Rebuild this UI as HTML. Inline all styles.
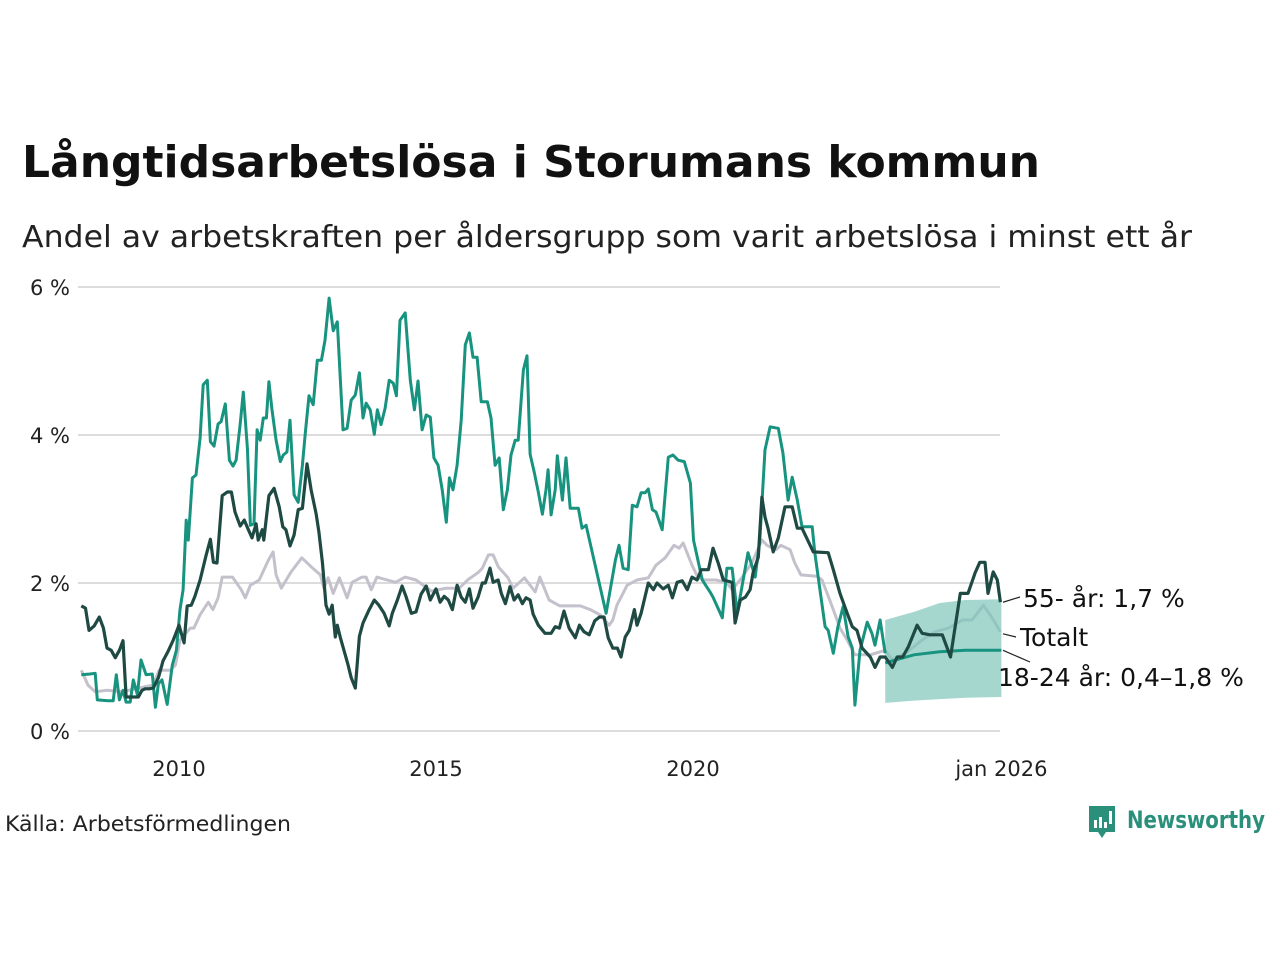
<!DOCTYPE html>
<html><head><meta charset="utf-8"><style>
html,body{margin:0;padding:0;background:#fff;}
body{width:1280px;height:960px;overflow:hidden;font-family:"Liberation Sans","DejaVu Sans",sans-serif;}
svg text{font-family:"DejaVu Sans","Liberation Sans",sans-serif;}
</style></head><body>
<svg id="chart" width="1280" height="960" xmlns="http://www.w3.org/2000/svg">
<text x="22" y="177" font-size="44" font-weight="bold" fill="#111" textLength="1018" lengthAdjust="spacingAndGlyphs">Långtidsarbetslösa i Storumans kommun</text>
<text x="22" y="247" font-size="30" fill="#222" textLength="1170" lengthAdjust="spacingAndGlyphs">Andel av arbetskraften per åldersgrupp som varit arbetslösa i minst ett år</text>
<g id="grid"></g>
<g id="plot"></g>
<g id="labels"></g>
<text x="5" y="831" font-size="21" fill="#222" textLength="286" lengthAdjust="spacingAndGlyphs">Källa: Arbetsförmedlingen</text>
<g>
<path d="M1089,806 h26 v26 h-9 l-4,6 l-4,-6 h-9 z" fill="#2a8f7b"/>
<rect x="1094" y="820" width="3" height="8" fill="#fff"/><rect x="1099" y="817" width="3" height="11" fill="#fff"/><rect x="1104" y="822" width="3" height="6" fill="#fff"/><rect x="1109" y="811" width="3" height="13" fill="#fff"/>
<text x="1127" y="828" font-size="24" font-weight="bold" fill="#2a8f7b" textLength="138" lengthAdjust="spacingAndGlyphs">Newsworthy</text>
</g>
</svg>
<script>
// 18-24 år (teal)
const youngDates=[2008.10,2008.27,2008.37,2008.41,2008.62,2008.72,2008.78,2008.84,2008.91,2008.97,2009.05,2009.11,2009.19,2009.26,2009.36,2009.48,2009.54,2009.60,2009.67,2009.77,2009.87,2009.95,2010.02,2010.08,2010.14,2010.18,2010.26,2010.33,2010.41,2010.47,2010.55,2010.61,2010.68,2010.76,2010.82,2010.90,2010.98,2011.05,2011.11,2011.19,2011.25,2011.33,2011.39,2011.46,2011.52,2011.58,2011.64,2011.70,2011.75,2011.81,2011.89,2011.97,2012.03,2012.10,2012.16,2012.24,2012.32,2012.40,2012.46,2012.53,2012.61,2012.69,2012.77,2012.84,2012.92,2013.00,2013.08,2013.19,2013.27,2013.35,2013.43,2013.51,2013.58,2013.64,2013.72,2013.80,2013.86,2013.93,2014.01,2014.09,2014.17,2014.23,2014.30,2014.40,2014.50,2014.58,2014.65,2014.73,2014.81,2014.89,2014.96,2015.04,2015.12,2015.20,2015.26,2015.33,2015.41,2015.49,2015.57,2015.65,2015.72,2015.80,2015.88,2016.00,2016.07,2016.15,2016.23,2016.31,2016.39,2016.46,2016.54,2016.60,2016.70,2016.77,2016.83,2016.91,2016.99,2017.07,2017.14,2017.18,2017.24,2017.32,2017.36,2017.46,2017.53,2017.61,2017.69,2017.77,2017.84,2017.92,2018.31,2018.49,2018.56,2018.64,2018.74,2018.82,2018.91,2018.99,2019.07,2019.13,2019.21,2019.28,2019.40,2019.52,2019.61,2019.71,2019.83,2019.95,2020.01,2020.18,2020.33,2020.39,2020.57,2020.66,2020.76,2020.86,2021.07,2021.21,2021.30,2021.40,2021.50,2021.66,2021.75,2021.85,2021.93,2022.03,2022.12,2022.32,2022.37,2022.57,2022.63,2022.73,2022.82,2022.92,2023.02,2023.10,2023.15,2023.25,2023.39,2023.48,2023.54,2023.64,2023.74];
const youngValues=[0.76,0.77,0.78,0.42,0.41,0.41,0.76,0.42,0.55,0.39,0.39,0.69,0.49,0.96,0.76,0.77,0.32,0.64,0.69,0.36,0.89,1.09,1.64,1.91,2.85,2.58,3.42,3.46,3.96,4.68,4.74,3.91,3.85,4.15,4.18,4.42,3.66,3.58,3.66,4.15,4.58,3.82,2.78,2.80,4.07,3.93,4.23,4.23,4.72,4.34,3.93,3.64,3.73,3.77,4.20,3.19,3.09,3.59,4.04,4.53,4.41,5.01,5.01,5.28,5.85,5.41,5.53,4.07,4.09,4.47,4.54,4.84,4.23,4.43,4.34,4.01,4.34,4.14,4.36,4.74,4.70,4.53,5.55,5.65,4.74,4.34,4.73,4.07,4.27,4.24,3.69,3.59,3.26,2.82,3.42,3.26,3.59,4.20,5.22,5.38,5.05,5.05,4.45,4.45,4.23,3.59,3.69,2.99,3.26,3.73,3.93,3.93,4.88,5.07,3.74,3.50,3.23,2.93,3.26,3.53,2.92,3.26,3.72,3.12,3.69,3.01,3.01,3.01,2.74,2.78,1.59,2.31,2.51,2.20,2.18,3.05,3.03,3.22,3.22,3.27,2.99,2.96,2.72,3.70,3.73,3.66,3.64,3.35,2.58,2.04,1.88,1.81,1.53,2.20,2.20,1.59,2.41,2.08,2.58,3.80,4.11,4.09,3.76,3.12,3.43,3.12,2.76,2.76,2.41,1.41,1.36,1.05,1.41,1.68,1.27,1.12,0.35,1.09,1.47,1.32,1.16,1.50,1.05,1.09];
// 18-24 år forecast
const fcDates=[2023.74,2024.30,2024.80,2025.30,2026.00];
const fcMid=[0.92,1.03,1.07,1.09,1.09];
const fcLow=[0.38,0.41,0.43,0.45,0.46];
const fcHigh=[1.50,1.61,1.73,1.77,1.78];
// 55- år (dark)
const oldDates=[2008.10,2008.18,2008.25,2008.35,2008.45,2008.53,2008.60,2008.68,2008.76,2008.84,2008.91,2008.97,2009.05,2009.13,2009.21,2009.28,2009.34,2009.42,2009.50,2009.60,2009.69,2009.79,2009.89,2010.00,2010.10,2010.16,2010.24,2010.31,2010.41,2010.53,2010.61,2010.67,2010.74,2010.84,2010.94,2011.02,2011.09,2011.19,2011.27,2011.35,2011.42,2011.50,2011.54,2011.62,2011.65,2011.75,2011.85,2011.95,2012.02,2012.08,2012.16,2012.24,2012.32,2012.40,2012.49,2012.57,2012.67,2012.72,2012.79,2012.86,2012.92,2012.98,2013.04,2013.08,2013.14,2013.23,2013.29,2013.35,2013.43,2013.51,2013.58,2013.70,2013.80,2013.89,2013.99,2014.09,2014.15,2014.25,2014.34,2014.42,2014.52,2014.61,2014.71,2014.81,2014.89,2015.00,2015.08,2015.16,2015.24,2015.32,2015.41,2015.49,2015.57,2015.65,2015.72,2015.82,2015.90,2015.96,2016.05,2016.11,2016.21,2016.27,2016.35,2016.44,2016.52,2016.60,2016.68,2016.75,2016.83,2016.89,2016.99,2017.12,2017.24,2017.32,2017.40,2017.49,2017.59,2017.71,2017.79,2017.88,2017.98,2018.09,2018.18,2018.27,2018.35,2018.44,2018.53,2018.60,2018.68,2018.76,2018.86,2018.91,2018.99,2019.13,2019.23,2019.30,2019.42,2019.52,2019.60,2019.69,2019.79,2019.89,2019.98,2020.08,2020.16,2020.23,2020.30,2020.39,2020.49,2020.59,2020.76,2020.82,2020.92,2021.02,2021.11,2021.17,2021.27,2021.34,2021.40,2021.46,2021.56,2021.66,2021.79,2021.93,2022.03,2022.12,2022.34,2022.63,2022.73,2022.86,2023.00,2023.10,2023.19,2023.29,2023.45,2023.54,2023.64,2023.74,2023.88,2023.97,2024.08,2024.19,2024.36,2024.46,2024.61,2024.75,2024.85,2025.01,2025.20,2025.35,2025.49,2025.58,2025.68,2025.74,2025.84,2025.92,2025.98];
const oldValues=[1.69,1.66,1.36,1.42,1.54,1.39,1.12,1.09,0.99,1.09,1.22,0.46,0.46,0.46,0.46,0.55,0.57,0.57,0.58,0.72,0.95,1.08,1.23,1.43,1.19,1.69,1.70,1.82,2.04,2.38,2.59,2.28,2.27,3.18,3.23,3.23,2.96,2.77,2.85,2.72,2.61,2.80,2.58,2.72,2.58,3.18,3.28,3.03,2.76,2.72,2.50,2.65,2.99,3.01,3.61,3.26,2.93,2.70,2.28,1.70,1.58,1.70,1.27,1.43,1.26,1.04,0.89,0.72,0.58,1.28,1.46,1.64,1.77,1.70,1.59,1.42,1.59,1.77,1.96,1.81,1.59,1.61,1.85,1.96,1.77,1.92,1.74,1.82,1.77,1.64,1.97,1.81,1.74,1.92,1.66,1.81,2.00,2.00,2.20,2.01,2.04,1.86,1.72,1.95,1.77,1.84,1.72,1.80,1.77,1.58,1.43,1.32,1.32,1.41,1.39,1.62,1.39,1.26,1.43,1.34,1.30,1.49,1.54,1.54,1.26,1.12,1.12,1.00,1.27,1.36,1.64,1.43,1.59,2.00,1.91,2.00,1.92,1.97,1.80,2.01,2.03,1.91,2.08,2.04,2.18,2.18,2.18,2.47,2.27,2.04,2.01,1.46,1.77,1.81,1.91,2.14,2.35,3.16,2.89,2.74,2.42,2.61,3.03,3.03,2.74,2.74,2.42,2.41,2.18,1.86,1.59,1.41,1.36,1.12,1.00,0.86,1.00,1.00,0.86,1.00,1.00,1.14,1.43,1.32,1.30,1.30,1.30,1.00,1.86,1.86,2.14,2.28,2.28,1.86,2.15,2.04,1.74];
// Totalt (grey)
const totDates=[2008.10,2008.23,2008.37,2008.60,2008.89,2009.21,2009.50,2009.61,2009.83,2009.93,2010.02,2010.22,2010.29,2010.41,2010.57,2010.66,2010.76,2010.84,2011.04,2011.21,2011.29,2011.39,2011.56,2011.74,2011.83,2011.89,2011.99,2012.18,2012.39,2012.57,2012.75,2012.82,2012.90,2013.00,2013.12,2013.27,2013.37,2013.56,2013.64,2013.74,2013.85,2014.21,2014.40,2014.61,2014.91,2015.20,2015.45,2015.63,2015.82,2015.90,2016.02,2016.11,2016.21,2016.40,2016.50,2016.72,2016.93,2017.02,2017.20,2017.41,2017.61,2017.81,2018.00,2018.19,2018.37,2018.44,2018.52,2018.72,2018.91,2019.13,2019.28,2019.46,2019.63,2019.73,2019.81,2019.98,2020.10,2020.23,2020.45,2020.66,2020.76,2020.95,2021.15,2021.34,2021.44,2021.61,2021.71,2021.89,2021.98,2022.10,2022.41,2022.51,2022.61,2022.73,2022.86,2023.00,2023.15,2023.45,2023.74,2023.88,2024.17,2024.46,2024.71,2024.97,2025.24,2025.43,2025.65,2025.82,2025.98];
const totValues=[0.82,0.62,0.53,0.55,0.53,0.58,0.62,0.82,0.82,0.89,1.23,1.39,1.39,1.57,1.74,1.64,1.80,2.08,2.08,1.91,1.80,1.97,2.04,2.31,2.42,2.11,1.93,2.15,2.34,2.22,2.11,1.93,2.07,1.86,2.07,1.80,2.01,2.08,2.08,1.91,2.08,2.01,2.08,2.04,1.89,1.93,1.93,2.05,2.14,2.20,2.38,2.38,2.22,2.07,1.93,2.07,1.88,2.08,1.77,1.69,1.69,1.69,1.64,1.57,1.43,1.50,1.70,1.97,2.04,2.07,2.24,2.34,2.51,2.47,2.54,2.24,2.07,2.04,2.04,2.00,1.91,2.07,2.28,2.58,2.51,2.45,2.51,2.45,2.27,2.11,2.09,2.04,1.86,1.64,1.39,1.23,1.03,1.03,1.09,0.96,1.07,1.23,1.34,1.39,1.50,1.50,1.70,1.53,1.34];
const yTicks=[0,2,4,6];
const yTickLabels=["0 %","2 %","4 %","6 %"];
const xTicks=[2010,2015,2020,2026];
const xTickLabels=["2010","2015","2020","jan 2026"];

const NS="http://www.w3.org/2000/svg";
const X=y=>179+(y-2010)*51.4;
const Y=v=>731-v*74;
function mk(tag,attrs,parent){const e=document.createElementNS(NS,tag);for(const k in attrs)e.setAttribute(k,attrs[k]);parent.appendChild(e);return e;}
const grid=document.getElementById('grid'),plot=document.getElementById('plot'),labels=document.getElementById('labels');
yTicks.forEach((t,i)=>{
  const l=mk('line',{x1:78,x2:1000,y1:Y(t),y2:Y(t),stroke:'#dcdcdc','stroke-width':2},grid);
  
  
  const tx=mk('text',{x:70,y:Y(t)+8,'text-anchor':'end','font-size':21,fill:'#222'},grid);
  tx.textContent=yTickLabels[i];
  
  
});
xTicks.forEach((t,i)=>{
  const tx=mk('text',{x:X(t),y:776,'text-anchor':'middle','font-size':21,fill:'#222'},grid);
  tx.textContent=xTickLabels[i];
  
  
});
function pts(d,v){return d.map((x,i)=>X(x).toFixed(1)+','+Y(v[i]).toFixed(1)).join(' ');}
const tot=mk('polyline',{points:pts(totDates,totValues),fill:'none',stroke:'#c4c1cc','stroke-width':3,'stroke-linejoin':'round'},plot);


let bandPts=fcDates.map((d,i)=>X(d)+','+Y(fcHigh[i])).concat(fcDates.slice().reverse().map((d,j)=>{const i=fcDates.length-1-j;return X(d)+','+Y(fcLow[i]);})).join(' ');
const band=mk('polygon',{points:bandPts,fill:'#7fc6ba','fill-opacity':0.7},plot);


const young=mk('polyline',{points:pts(youngDates,youngValues),fill:'none',stroke:'#17937f','stroke-width':3,'stroke-linejoin':'round'},plot);


const fc=mk('polyline',{points:pts(fcDates,fcMid),fill:'none',stroke:'#17937f','stroke-width':3},plot);


const old=mk('polyline',{points:pts(oldDates,oldValues),fill:'none',stroke:'#1f4a44','stroke-width':3.2,'stroke-linejoin':'round'},plot);


const L=[[1003,Y(oldValues[oldValues.length-1]),1020,597,'55- år: 1,7 %',1023,607,'label-55'],
         [1003,Y(totValues[totValues.length-1])+2,1016,637,'Totalt',1020,646,'label-totalt'],
         [1003,Y(fcMid[fcMid.length-1]),1030,662,'18-24 år: 0,4–1,8 %',998,686,'label-18-24']];
L.forEach(a=>{
  const ln=mk('line',{x1:a[0],y1:a[1],x2:a[2],y2:a[3],stroke:'#222','stroke-width':1.2},labels);
  
  
  const t=mk('text',{x:a[5],y:a[6],'font-size':25,fill:'#111'},labels);
  t.textContent=a[4];
  
  
});
</script>
</body></html>
